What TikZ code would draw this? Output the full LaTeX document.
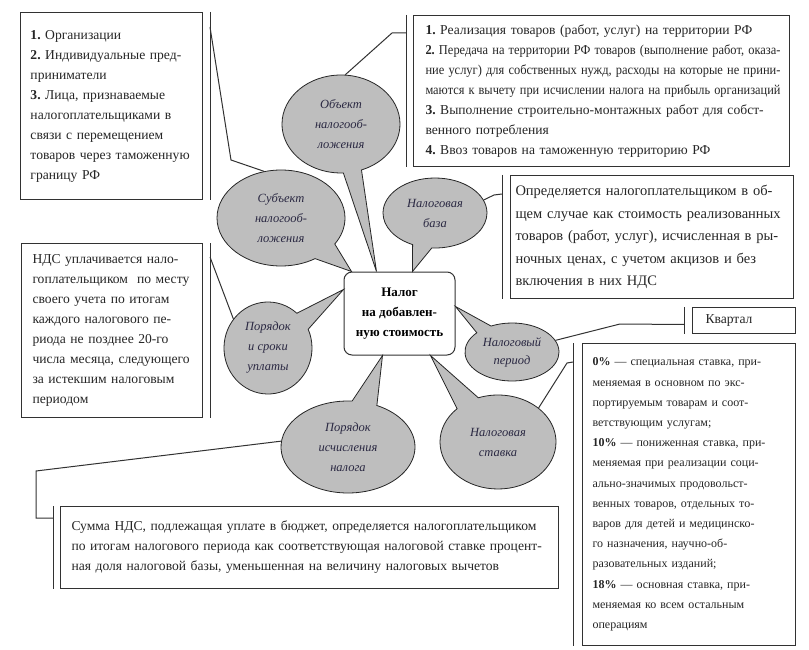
\documentclass[tikz,border=0pt]{standalone}
\usepackage{fontspec}
\setmainfont{Liberation Serif}
\usepackage{graphicx}
\usetikzlibrary{shapes.callouts}

\definecolor{bubblegray}{RGB}{190,190,190}
\definecolor{inkblue}{RGB}{42,40,66}
\definecolor{linegray}{RGB}{50,50,50}

\newcommand{\jl}[1]{\makebox[\hsize][s]{#1}}
\newcommand{\sq}[2]{\resizebox{#1}{\height}{#2}}
\frenchspacing

\tikzset{
  infobox/.style={draw=linegray, line width=1pt, fill=white, anchor=north west, inner ysep=0pt, inner xsep=10pt, align=left, text=black!85, font=\fontsize{13.6}{20}\selectfont},
  bubble/.style={ellipse callout, draw=black!85, line width=0.8pt, fill=bubblegray, inner sep=0pt, align=center, text=inkblue, font=\itshape\fontsize{12.5}{20}\selectfont},
  bracket/.style={draw=linegray, line width=1pt},
}

\begin{document}
\begin{tikzpicture}[x=1pt,y=-1pt]
\path[fill=white, use as bounding box] (0,0) rectangle (809,650);

% centre
\node[draw=linegray, line width=1pt, fill=white, rounded corners=8pt, minimum width=111pt, minimum height=83pt, align=center, font=\bfseries\fontsize{13}{20}\selectfont] (nds) at (399.5,313.5) {Налог\\на добавлен-\\ную стоимость};

% bubbles
\node[bubble, minimum width=118pt, minimum height=98pt, callout pointer arc=18, callout absolute pointer={([xshift=33pt]nds.north west)}] (obj) at (341,124) {Объект\\налогооб-\\ложения};
\node[bubble, minimum width=128pt, minimum height=96pt, callout pointer arc=25, callout absolute pointer={([xshift=8pt]nds.north west)}] (subj) at (281,218) {Субъект\\налогооб-\\ложения};
\node[bubble, minimum width=104pt, minimum height=70pt, callout pointer arc=22, callout absolute pointer={([xshift=69pt]nds.north west)}] (base) at (435,213) {Налоговая\\база};
\node[bubble, minimum width=88pt, minimum height=92pt, callout pointer arc=25, callout absolute pointer={([yshift=-18pt]nds.north west)}] (srok) at (268,348) {Порядок\\и сроки\\уплаты};
\node[bubble, minimum width=94pt, minimum height=58pt, callout pointer arc=22, callout absolute pointer={([yshift=-35pt]nds.north east)}, font=\itshape\fontsize{12.5}{18}\selectfont] (period) at (512,352) {Налоговый\\период};
\node[bubble, minimum width=116pt, minimum height=94pt, callout pointer arc=25, callout absolute pointer={([xshift=-25pt]nds.south east)}] (rate) at (498,442) {Налоговая\\ставка};
\node[bubble, minimum width=134pt, minimum height=92pt, callout pointer arc=22, callout absolute pointer={([xshift=39pt]nds.south west)}] (calc) at (348,447) {Порядок\\исчисления\\налога};

% boxes
\node[infobox, text width=162pt, minimum height=187pt] (subjbox) at (20,12) {\textbf{1.} Организации\\
\textbf{2.} Индивидуальные пред-\\
приниматели\\
\textbf{3.} Лица, признаваемые\\
налогоплательщиками в\\
связи с перемещением\\
товаров через таможенную\\
границу РФ};

\node[infobox, inner xsep=12pt, text width=352pt, minimum height=151pt] (objbox) at (413,15) {\textbf{1.} Реализация товаров (работ, услуг) на территории РФ\\
\sq{355pt}{\textbf{2.} Передача на территории РФ товаров (выполнение работ, оказа-}\\
\sq{355pt}{ние услуг) для собственных нужд, расходы на которые не прини-}\\
\sq{355pt}{маются к вычету при исчислении налога на прибыль организаций}\\
\textbf{3.} Выполнение строительно-монтажных работ для собст-\\
венного потребления\\
\textbf{4.} Ввоз товаров на таможенную территорию РФ};

\node[infobox, inner xsep=5pt, text width=273pt, minimum height=123pt, font=\fontsize{14.5}{22.5}\selectfont] (basebox) at (510,175) {\jl{Определяется налогоплательщиком в об-}\\
\jl{щем случае как стоимость реализованных}\\
\jl{товаров (работ, услуг), исчисленная в ры-}\\
\jl{ночных ценах, с учетом акцизов и без}\\
включения в них НДС};

\node[infobox, inner xsep=11pt, text width=159pt, minimum height=174pt] (paybox) at (21,243) {НДС уплачивается нало-\\
гоплательщиком~ по месту\\
своего учета по итогам\\
каждого налогового пе-\\
риода не позднее 20-го\\
числа месяца, следующего\\
за истекшим налоговым\\
периодом};

\node[infobox, inner xsep=13pt, text width=77pt, minimum height=26pt] (kvbox) at (692,307) {Квартал};

\node[infobox, inner xsep=10pt, text width=193pt, minimum height=302pt, font=\fontsize{12}{20.2}\selectfont] (ratebox) at (582,343) {\jl{\textbf{0\%} — специальная ставка, при-}\\
\jl{меняемая в основном по экс-}\\
\jl{портируемым товарам и соот-}\\
ветствующим услугам;\\
\jl{\textbf{10\%} — пониженная ставка, при-}\\
\jl{меняемая при реализации соци-}\\
\jl{ально-значимых продовольст-}\\
\jl{венных товаров, отдельных то-}\\
\jl{варов для детей и медицинско-}\\
\jl{го назначения, научно-об-}\\
разовательных изданий;\\
\jl{\textbf{18\%} — основная ставка, при-}\\
\jl{меняемая ко всем остальным}\\
операциям};

\node[infobox, inner xsep=11pt, text width=476pt, minimum height=82pt] (sumbox) at (60,506) {Сумма НДС, подлежащая уплате в бюджет, определяется налогоплательщиком\\
\jl{по итогам налогового периода как соответствующая налоговой ставке процент-}\\
ная доля налоговой базы, уменьшенная на величину налоговых вычетов};

% brackets
\draw[bracket] ([xshift=7pt]subjbox.north east) -- ([xshift=7pt]subjbox.south east);
\draw[bracket] ([xshift=-7pt]objbox.north west) -- ([xshift=-7pt]objbox.south west);
\draw[bracket] ([xshift=-8pt]basebox.north west) -- ([xshift=-8pt]basebox.south west);
\draw[bracket] ([xshift=7pt]paybox.north east) -- ([xshift=7pt]paybox.south east);
\draw[bracket] ([xshift=-8pt]kvbox.north west) -- ([xshift=-8pt]kvbox.south west);
\draw[bracket] ([xshift=-9pt]ratebox.north west) -- ([xshift=-9pt]ratebox.south west);
\draw[bracket] ([xshift=-7pt]sumbox.north west) -- ([xshift=-7pt]sumbox.south west);

% connectors
\coordinate (subjbend) at (231,160);
\coordinate (objbend) at (392,33);
\coordinate (basebend) at (494,195);
\coordinate (kvbend) at (620,324);
\coordinate (ratebend) at (567,363);
\coordinate (sumbend) at (36,518);
\coordinate (sumtop) at (36,471);

\draw[bracket] ([xshift=7pt,yshift=-15pt]subjbox.north east) -- (subjbend) -- (subj.110);
\draw[bracket] ([xshift=-7pt,yshift=-18pt]objbox.north west) -- (objbend) -- (obj.85);
\draw[bracket] ([xshift=-8pt,yshift=-19pt]basebox.north west) -- (basebend) -- (base.15);
\draw[bracket] ([xshift=7pt,yshift=-14pt]paybox.north east) -- (srok.140);
\draw[bracket] ([xshift=-8pt,yshift=-4pt]kvbox.west) -- (kvbend) -- (period.15);
\draw[bracket] ([xshift=-9pt,yshift=-19pt]ratebox.north west) -- (ratebend) -- (rate.40);
\draw[bracket] ([xshift=-7pt,yshift=-12pt]sumbox.north west) -- (sumbend) -- (sumtop) -- (calc.175);

\end{tikzpicture}
\end{document}
